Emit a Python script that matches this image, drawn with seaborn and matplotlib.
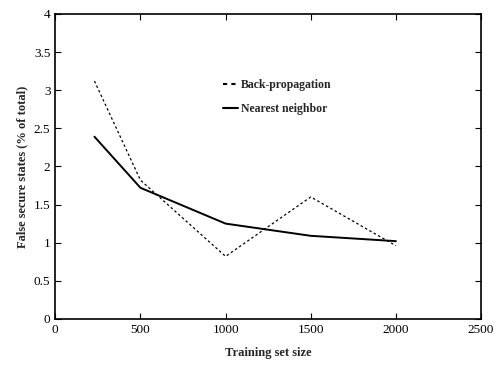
import matplotlib.pyplot as plt
import pandas as pd
import seaborn as sns

# values
train_size = [230, 500, 1000, 1500, 2000]
backprop = [3.12, 1.82, 0.82, 1.60, 0.96]
nearest = [2.39, 1.72, 1.25, 1.09, 1.02]

df = pd.DataFrame({
    "size": train_size * 2,
    "pct": backprop + nearest,
    "method": ["Back-propagation"] * 5 + ["Nearest neighbor"] * 5,
})

sns.set_style("ticks")
plt.rcParams["font.family"] = ["Liberation Serif", "DejaVu Serif"]

fig = plt.figure(figsize=(4.98, 3.67), dpi=100)
ax = fig.add_axes([0.111, 0.131, 0.855, 0.831])

sns.lineplot(data=df, x="size", y="pct", style="method",
             dashes={"Back-propagation": (2, 2), "Nearest neighbor": ""},
             color="black", ax=ax, legend=True)
for line, lw in zip(ax.lines, [0.9, 1.4]):
    line.set_linewidth(lw)

ax.set_xlim(0, 2500)
ax.set_ylim(0, 4)
ax.set_xticks([0, 500, 1000, 1500, 2000, 2500])
ax.set_yticks([0, 0.5, 1, 1.5, 2, 2.5, 3, 3.5, 4])
ax.set_yticklabels(["0", "0.5", "1", "1.5", "2", "2.5", "3", "3.5", "4"])
ax.tick_params(direction="in", length=4, width=0.8, labelsize=9.5,
               top=True, right=True, color="black", labelcolor="black")
for s in ax.spines.values():
    s.set_linewidth(1.2)
    s.set_color("black")

ax.set_xlabel("Training set size", fontsize=9, fontweight="bold", labelpad=8)
ax.set_ylabel("False secure states (% of total)", fontsize=9, fontweight="bold", labelpad=4)

leg = ax.legend(loc="upper left", bbox_to_anchor=(0.37, 0.82), frameon=False,
                prop={"size": 8.5, "weight": "bold"}, handlelength=1.2,
                handletextpad=0.3, labelspacing=0.95)

fig.savefig("out.png", dpi=100)
